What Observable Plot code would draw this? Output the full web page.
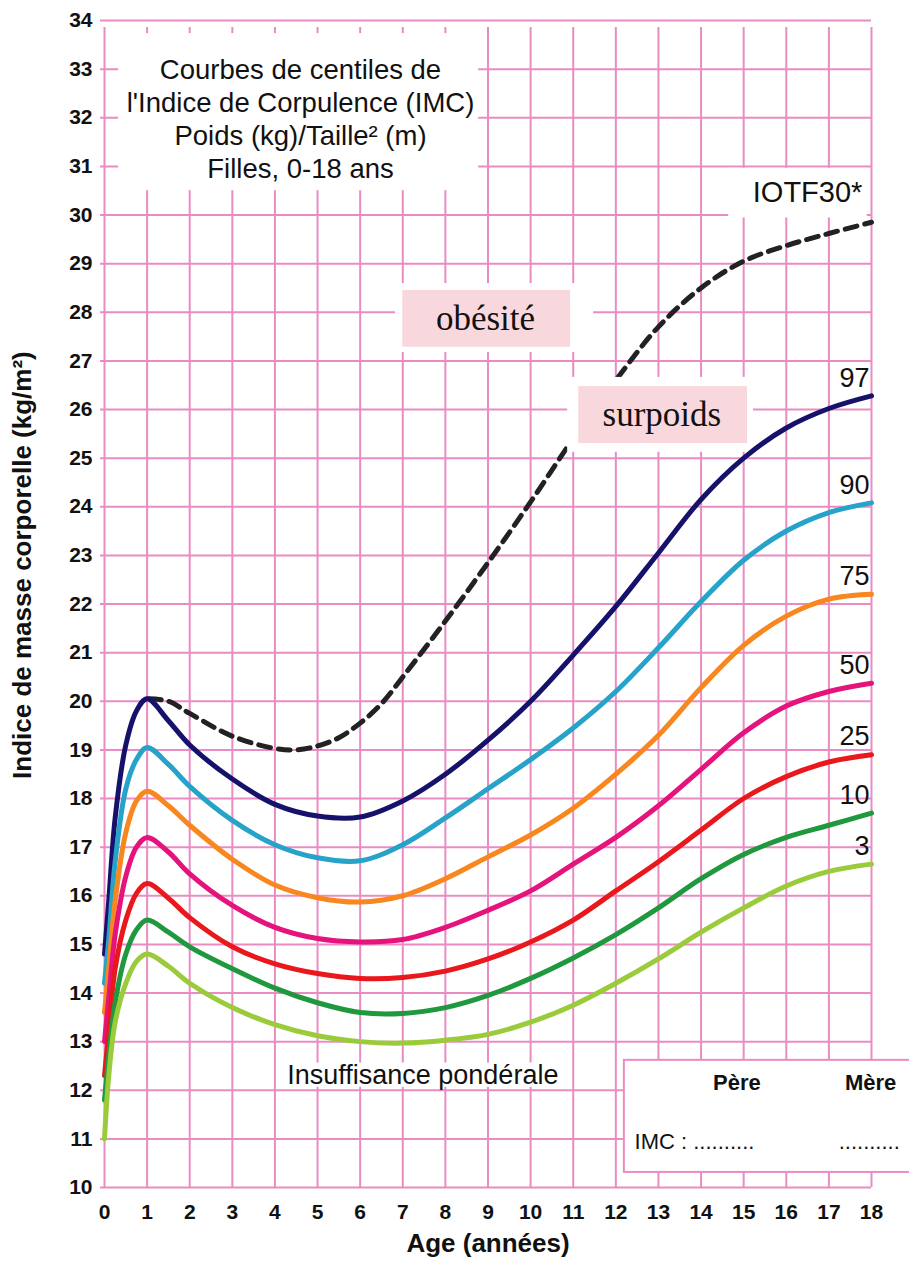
<!DOCTYPE html>
<html><head><meta charset="utf-8">
<script src="https://cdn.jsdelivr.net/npm/d3@7"></script>
<script src="https://cdn.jsdelivr.net/npm/@observablehq/plot@0.6"></script>
<style>body{margin:0;background:#fff} #chart svg{display:block}</style>
</head><body><div id="chart"></div>
<script>
// ---- data ----
const ages = [0, 0.1, 0.25, 0.5, 0.75, 1, 1.5, 2, 3, 4, 5, 6, 7, 8, 9, 10, 11, 12, 13, 14, 15, 16, 17, 18];
const p97 = [14.8, 15.9, 17.6, 19.1, 19.8, 20.05, 19.6, 19.1, 18.4, 17.88, 17.64, 17.62, 17.95, 18.5, 19.2, 20.0, 20.95, 21.95, 23.05, 24.15, 25.0, 25.62, 26.02, 26.28];
const p90 = [14.2, 15.1, 16.7, 18.2, 18.8, 19.05, 18.7, 18.25, 17.55, 17.05, 16.78, 16.72, 17.05, 17.6, 18.2, 18.8, 19.45, 20.2, 21.1, 22.05, 22.9, 23.5, 23.88, 24.08];
const p75 = [13.6, 14.5, 15.9, 17.3, 17.95, 18.15, 17.85, 17.45, 16.75, 16.22, 15.96, 15.87, 16.0, 16.35, 16.8, 17.25, 17.8, 18.5, 19.3, 20.28, 21.15, 21.75, 22.1, 22.2];
const p50 = [13.0, 13.9, 15.2, 16.4, 17.0, 17.2, 16.9, 16.45, 15.8, 15.35, 15.12, 15.05, 15.1, 15.35, 15.7, 16.1, 16.65, 17.2, 17.85, 18.6, 19.35, 19.9, 20.2, 20.37];
const p25 = [12.3, 13.2, 14.5, 15.5, 16.05, 16.25, 15.95, 15.55, 14.95, 14.6, 14.4, 14.3, 14.32, 14.45, 14.7, 15.05, 15.5, 16.1, 16.7, 17.35, 18.0, 18.45, 18.75, 18.9];
const p10 = [11.8, 12.7, 13.8, 14.8, 15.3, 15.5, 15.25, 14.95, 14.5, 14.1, 13.8, 13.6, 13.58, 13.7, 13.95, 14.3, 14.72, 15.2, 15.75, 16.35, 16.85, 17.2, 17.45, 17.7];
const p3  = [11.0, 12.3, 13.4, 14.2, 14.65, 14.8, 14.55, 14.2, 13.7, 13.35, 13.12, 13.0, 12.97, 13.03, 13.15, 13.4, 13.75, 14.2, 14.7, 15.25, 15.75, 16.2, 16.5, 16.65];
const centiles = ["97", "90", "75", "50", "25", "10", "3"];
const iotfAges = [1.05, 1.5, 2, 3, 4, 4.5, 5, 5.5, 6, 6.5, 7, 8, 9, 10, 11, 12, 13, 14, 15, 16, 17, 18];
const iotf30 = [20.05, 20.0, 19.75, 19.28, 19.03, 19.0, 19.08, 19.25, 19.55, 19.95, 20.5, 21.65, 22.85, 24.1, 25.4, 26.6, 27.7, 28.5, 29.05, 29.37, 29.62, 29.85];
const xTicks = d3.range(0, 19);
const yTicks = d3.range(10, 35);
const titleLines = ["Courbes de centiles de", "l'Indice de Corpulence (IMC)", "Poids (kg)/Taille² (m)", "Filles, 0-18 ans"];
const iotfLabel = "IOTF30*";
const zoneLabels = ["obésité", "surpoids", "Insuffisance pondérale"];
const xLabel = "Age (années)";
const yLabel = "Indice de masse corporelle (kg/m²)";
const parentHeads = ["Père", "Mère"];
const imcLine = ["IMC : ..........", ".........."];

// ---- build tables ----
const seriesValues = [p97, p90, p75, p50, p25, p10, p3];
const rows = centiles.flatMap((c, i) => ages.map((a, j) => ({age: a, imc: seriesValues[i][j], centile: c})));
const iotfRows = iotfAges.map((a, j) => ({age: a, imc: iotf30[j]}));
const ends = centiles.map((c, i) => ({centile: c, age: ages[ages.length - 1], imc: seriesValues[i][ages.length - 1]}));

const grid = "#ea8cc3";
const sans = "'Liberation Sans', Arial, Helvetica, sans-serif";
const serif = "'Liberation Serif', 'Times New Roman', serif";
const narrow = "'Liberation Sans Narrow', 'Liberation Sans', Arial, sans-serif";
const box = (x1, x2, y1, y2, o = {}) => Plot.rect([0], {x1, x2, y1, y2, fill: "white", ...o});

const chart = Plot.plot({
  width: 909, height: 1269,
  marginLeft: 104, marginRight: 38, marginTop: 20, marginBottom: 82,
  style: {background: "#fff", fontFamily: sans, color: "#111"},
  x: {domain: [0, 18]},
  y: {domain: [10, 34]},
  color: {domain: centiles, range: ["#16126b", "#27a3c9", "#f7871e", "#e4147c", "#e8181c", "#1f983e", "#9acb3a"]},
  marks: [
    // grid
    Plot.ruleY(yTicks, {stroke: grid, strokeWidth: 2, insetLeft: -4}),
    Plot.ruleX(xTicks, {y1: 10, y2: 34, stroke: grid, strokeWidth: 2, insetBottom: -7}),
    // white pads over the grid
    box(0.33, 8.78, 30.5, 33.73),
    box(14.65, 17.9, 29.94, 30.96),
    box(4.1, 10.85, 12.06, 12.56),
    // IOTF 30 dashed curve
    Plot.line(iotfRows, {x: "age", y: "imc", stroke: "#222", strokeWidth: 5, strokeDasharray: "12,8", curve: "catmull-rom"}),
    // zone boxes
    box(6.83, 11.48, 27.17, 28.59),
    box(7.0, 10.94, 27.28, 28.45, {fill: "#f9d8dd"}),
    box(10.87, 15.23, 25.12, 26.66),
    box(11.13, 15.09, 25.30, 26.47, {fill: "#f9d8dd"}),
    Plot.text([zoneLabels[0]], {x: 8.94, y: 27.86, fontFamily: serif, fontSize: 35, fill: "#111"}),
    Plot.text([zoneLabels[1]], {x: 13.08, y: 25.89, fontFamily: serif, fontSize: 35, fill: "#111"}),
    Plot.text([zoneLabels[2]], {x: 7.47, y: 12.3, fontSize: 27, fill: "#111"}),
    // title
    Plot.text([titleLines.join("\n")], {x: 4.6, y: 32.0, fontSize: 27.5, lineHeight: 1.2, fill: "#111"}),
    Plot.text([iotfLabel], {x: 16.5, y: 30.46, fontSize: 29, fill: "#111"}),
    // centile curves
    Plot.line(rows, {x: "age", y: "imc", z: "centile", stroke: "centile", strokeWidth: 5, curve: "catmull-rom"}),
    Plot.text(ends, {x: "age", y: "imc", text: "centile", textAnchor: "end", dx: -2, dy: -18, fontSize: 27, fill: "#111"}),
    // parents box
    Plot.rect([0], {x1: 12.2, x2: 19.2, y1: 10.31, y2: 12.615, fill: "white", stroke: grid, strokeWidth: 2}),
    Plot.text(parentHeads, {x: [14.84, 17.98], y: 12.14, fontFamily: narrow, fontWeight: "bold", fontSize: 22, fill: "#111"}),
    Plot.text(imcLine, {x: [12.44, 17.23], y: 10.93, textAnchor: "start", fontFamily: narrow, fontSize: 22, fill: "#111"}),
    // axes
    Plot.axisY(yTicks, {tickSize: 0, tickPadding: 12, fontSize: 21, fontWeight: "bold", label: null, tickFormat: d => d}),
    Plot.axisX(xTicks, {tickSize: 0, tickPadding: 17, fontSize: 21, fontWeight: "bold", label: null, tickFormat: d => d}),
    Plot.text([xLabel], {x: 9, y: 10, dy: 56, fontSize: 26, fontWeight: "bold", fill: "#111"}),
    Plot.text([yLabel], {x: -1.92, y: 22.8, rotate: -90, fontSize: 26, fontWeight: "bold", fill: "#111"})
  ]
});
document.getElementById("chart").appendChild(chart);
</script>
</body></html>
